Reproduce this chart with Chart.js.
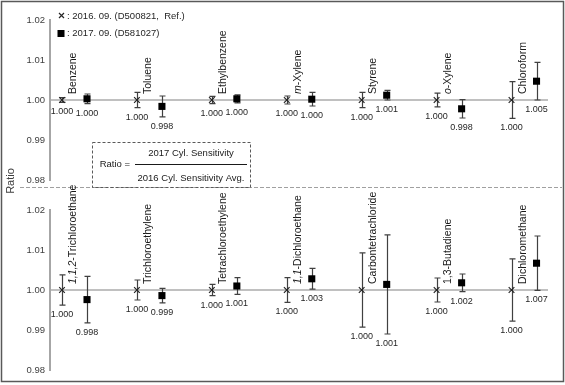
<!DOCTYPE html>
<html>
<head>
<meta charset="utf-8">
<script src="https://cdn.jsdelivr.net/npm/chart.js@4.4.0/dist/chart.umd.min.js"></script>
<style>
  body { margin: 0; background: #fff; }
  #wrap { position: relative; width: 565px; height: 385px; }
  #wrap canvas { position: absolute; left: 0; top: 0; }
</style>
</head>
<body>
<div id="wrap">
  <canvas id="topPanel" width="565" height="385"></canvas>
  <canvas id="bottomPanel" width="565" height="385"></canvas>
</div>
<script>
// series labels
const refLabel = '2016. 09. (D500821,  Ref.)';
const newLabel = '2017. 09. (D581027)';

// upper panel
const topNames = ['Benzene', 'Toluene', 'Ethylbenzene', 'm-Xylene', 'Styrene', 'o-Xylene', 'Chloroform'];
const topItalic = ['', '', '', 'm', '', 'o', ''];
const topRef = [1, 1, 1, 1, 1, 1, 1];
const topRefErr = [0.0006, 0.0019, 0.0009, 0.001, 0.0019, 0.0017, 0.0046];
const topNew = [1.0003, 0.9984, 1.0003, 1.0002, 1.0012, 0.9978, 1.0047];
const topNewErr = [0.0012, 0.0026, 0.001, 0.0017, 0.0012, 0.0023, 0.0047];

// lower panel
const bottomNames = ['1,1,2-Trichloroethane', 'Trichloroethylene', 'Tetrachloroethylene', '1,1-Dichloroethane', 'Carbontetrachloride', '1,3-Butadiene', 'Dichloromethane'];
const bottomItalic = ['1,1,2', '', '', '1,1', '', '', ''];
const bottomRef = [1, 1, 1, 1, 1, 1, 1];
const bottomRefErr = [0.0038, 0.0025, 0.0014, 0.0031, 0.0093, 0.003, 0.0078];
const bottomNew = [0.9976, 0.9986, 1.001, 1.0028, 1.0014, 1.0018, 1.0067];
const bottomNewErr = [0.0058, 0.0018, 0.0021, 0.0026, 0.0124, 0.0022, 0.0068];

const yTicks = [0.98, 0.99, 1.00, 1.01, 1.02];

const FONT = '"Liberation Sans", Arial, sans-serif';
const shift = 0.167;

function panelMarks(names, italics) {
  return {
    id: 'panelMarks',
    beforeDatasetsDraw(chart) {
      const ctx = chart.ctx, xs = chart.scales.x, ys = chart.scales.y;
      ctx.save();
      ctx.strokeStyle = '#404040';
      ctx.lineWidth = 1.2;
      chart.data.datasets.forEach(ds => {
        ds.data.forEach((p, i) => {
          const x = Math.round(xs.getPixelForValue(p.x)) + 0.5;
          const t = ys.getPixelForValue(p.y + ds.errors[i]);
          const b = ys.getPixelForValue(p.y - ds.errors[i]);
          ctx.beginPath();
          ctx.moveTo(x, t); ctx.lineTo(x, b);
          ctx.moveTo(x - 3, t); ctx.lineTo(x + 3, t);
          ctx.moveTo(x - 3, b); ctx.lineTo(x + 3, b);
          ctx.stroke();
        });
      });
      ctx.restore();
    },
    afterDatasetsDraw(chart) {
      const ctx = chart.ctx, xs = chart.scales.x, ys = chart.scales.y;
      ctx.save();
      // value labels under the error bars
      ctx.fillStyle = '#262626';
      ctx.font = '9px ' + FONT;
      ctx.textAlign = 'center';
      ctx.textBaseline = 'top';
      chart.data.datasets.forEach(ds => {
        ds.data.forEach((p, i) => {
          const x = xs.getPixelForValue(p.x);
          const b = ys.getPixelForValue(p.y - ds.errors[i]);
          ctx.fillText(p.y.toFixed(3), x, b + 5);
        });
      });
      // compound names, rotated
      const base = ys.getPixelForValue(1) - 6;
      names.forEach((name, i) => {
        const x = xs.getPixelForValue(i) - 1;
        ctx.save();
        ctx.translate(x, base);
        ctx.rotate(-Math.PI / 2);
        ctx.fillStyle = '#1a1a1a';
        ctx.textAlign = 'left';
        ctx.textBaseline = 'middle';
        let pos = 0;
        const it = italics[i];
        if (it) {
          ctx.font = 'italic 10.5px ' + FONT;
          ctx.fillText(it, 0, 0);
          pos = ctx.measureText(it).width;
        }
        ctx.font = '10.5px ' + FONT;
        ctx.fillText(name.slice(it.length), pos, 0);
        ctx.restore();
      });
      ctx.restore();
    }
  };
}

const decorations = {
  id: 'decorations',
  afterDraw(chart) {
    const ctx = chart.ctx;
    ctx.save();
    // outer frame
    ctx.strokeStyle = '#595959';
    ctx.lineWidth = 1.5;
    ctx.strokeRect(1.5, 1.5, 562, 380);

    // legend
    const ds = chart.data.datasets;
    ctx.font = '9.5px ' + FONT;
    ctx.fillStyle = '#262626';
    ctx.textAlign = 'left';
    ctx.textBaseline = 'middle';
    ctx.strokeStyle = '#262626';
    ctx.lineWidth = 1.2;
    ctx.beginPath();
    ctx.moveTo(59, 13); ctx.lineTo(64, 18);
    ctx.moveTo(64, 13); ctx.lineTo(59, 18);
    ctx.stroke();
    ctx.fillText(': ' + ds[0].label, 67, 16);
    ctx.fillStyle = '#000';
    ctx.fillRect(57.5, 30, 7, 7);
    ctx.fillStyle = '#262626';
    ctx.fillText(': ' + ds[1].label, 67, 33.5);

    // separator between panels
    ctx.strokeStyle = '#a0a0a0';
    ctx.lineWidth = 1;
    ctx.setLineDash([4, 2]);
    ctx.beginPath();
    ctx.moveTo(20, 187.5); ctx.lineTo(562, 187.5);
    ctx.stroke();

    // formula box
    ctx.strokeStyle = '#595959';
    ctx.setLineDash([3, 2]);
    ctx.strokeRect(92.5, 142.5, 158, 45);
    ctx.setLineDash([]);
    ctx.fillStyle = '#1a1a1a';
    ctx.textAlign = 'right';
    ctx.fillText('Ratio =', 130, 164);
    ctx.textAlign = 'center';
    ctx.fillText('2017 Cyl. Sensitivity', 191, 153);
    ctx.fillText('2016 Cyl. Sensitivity Avg.', 191, 178);
    ctx.strokeStyle = '#1a1a1a';
    ctx.beginPath();
    ctx.moveTo(135, 164.5); ctx.lineTo(247, 164.5);
    ctx.stroke();

    // y title
    ctx.translate(11, 181);
    ctx.rotate(-Math.PI / 2);
    ctx.font = '11px ' + FONT;
    ctx.fillStyle = '#404040';
    ctx.textAlign = 'center';
    ctx.fillText('Ratio', 0, 0);
    ctx.restore();
  }
};

function makePanel(id, names, italics, ref, refErr, cur, curErr, padTop, padBottom, extra) {
  const datasets = [
    {
      label: refLabel,
      data: ref.map((v, i) => ({ x: i - shift, y: v })),
      errors: refErr,
      pointStyle: 'crossRot',
      pointRadius: 4,
      pointBorderWidth: 1.2,
      borderColor: '#262626',
      backgroundColor: '#262626'
    },
    {
      label: newLabel,
      data: cur.map((v, i) => ({ x: i + shift, y: v })),
      errors: curErr,
      pointStyle: 'rect',
      pointRadius: 5,
      pointBorderWidth: 0,
      borderColor: '#000',
      backgroundColor: '#000'
    }
  ];
  const plugins = [panelMarks(names, italics)];
  if (extra) plugins.push(extra);
  return new Chart(document.getElementById(id), {
    type: 'scatter',
    data: { datasets },
    plugins,
    options: {
      responsive: false,
      animation: false,
      events: [],
      layout: { padding: { left: 0, right: 17, top: padTop, bottom: padBottom } },
      plugins: { legend: { display: false }, tooltip: { enabled: false } },
      scales: {
        x: { type: 'linear', min: -0.327, max: 6.32, display: false },
        y: {
          min: yTicks[0],
          max: yTicks[yTicks.length - 1],
          afterFit(s) { s.width = 50; },
          afterBuildTicks(s) { s.ticks = yTicks.map(v => ({ value: v })); },
          ticks: {
            padding: 5,
            color: '#404040',
            font: { family: FONT, size: 9.5 },
            callback: v => v.toFixed(2)
          },
          grid: {
            drawTicks: false,
            lineWidth: 2,
            color: c => (c.tick && Math.abs(c.tick.value - 1) < 1e-9) ? '#c0c0c0' : 'rgba(0,0,0,0)'
          },
          border: { color: '#a6a6a6', width: 2 }
        }
      }
    }
  });
}

makePanel('topPanel', topNames, topItalic, topRef, topRefErr, topNew, topNewErr, 20, 205, decorations);
makePanel('bottomPanel', bottomNames, bottomItalic, bottomRef, bottomRefErr, bottomNew, bottomNewErr, 210, 15, null);
</script>
</body>
</html>
